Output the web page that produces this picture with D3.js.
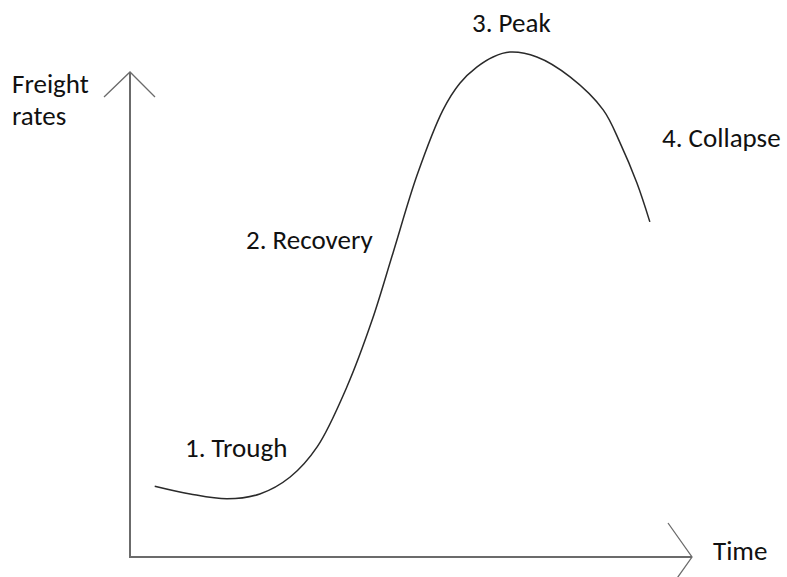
<!DOCTYPE html>
<html>
<head>
<meta charset="utf-8">
<script src="https://cdn.jsdelivr.net/npm/d3@7"></script>
<style>
  body { margin: 0; background: #fff; }
  svg text { font-family: Carlito, Lato, "Open Sans", sans-serif; font-size: 27px; fill: #111; }
</style>
</head>
<body>
<svg id="chart" width="787" height="577"></svg>
<script>
// freight cycle sketch, time vs rates (0-100 units each)
const time  = [4.4, 10.7, 17.3, 23.1, 28.5, 33.3, 38.6, 43.1, 46.8, 51.1, 55.7, 58.7, 61.7, 64.6, 67.6, 72.4, 78.3, 84.2, 87.2, 90.2, 92.5];
const rates = [14.6, 13, 12, 13, 16.5, 22.7, 35.1, 48.9, 62.7, 78.8, 92.2, 97.7, 101, 103.1, 104.1, 103.1, 99, 92.2, 85.4, 77.1, 69.1];

const phaseLabels = ['1. Trough', '2. Recovery', '3. Peak', '4. Collapse'];
const yTitle = ['Freight', 'rates'];
const xTitle = 'Time';

// layout
const ox = 130, oy = 557, yTop = 72, xEnd = 692;
const phasePos = [[185, 457], [246, 249], [472, 32], [662, 147]];

const svg = d3.select('#chart');

const x = d3.scaleLinear().domain([0, 100]).range([ox, xEnd]);
const y = d3.scaleLinear().domain([0, 100]).range([oy, yTop]);

// axes
svg.append('line')
  .attr('x1', ox).attr('y1', oy).attr('x2', ox).attr('y2', yTop)
  .attr('stroke', '#6b6b6b').attr('stroke-width', 2);
svg.append('line')
  .attr('x1', ox - 1).attr('y1', oy).attr('x2', xEnd).attr('y2', oy)
  .attr('stroke', '#6b6b6b').attr('stroke-width', 2);

// arrow heads (open chevrons)
svg.append('path')
  .attr('d', `M${ox - 26},${yTop + 25}L${ox},${yTop}L${ox + 25},${yTop + 25}`)
  .attr('fill', 'none').attr('stroke', '#6b6b6b').attr('stroke-width', 1.3);
svg.append('path')
  .attr('d', `M${xEnd - 24},${oy - 34}L${xEnd},${oy}L${xEnd - 24},${oy + 34}`)
  .attr('fill', 'none').attr('stroke', '#6b6b6b').attr('stroke-width', 1.3);

// cycle curve
const line = d3.line()
  .x((d, i) => x(time[i]))
  .y(d => y(d))
  .curve(d3.curveCatmullRom.alpha(0.5));

svg.append('path')
  .datum(rates)
  .attr('d', line)
  .attr('fill', 'none')
  .attr('stroke', '#2a2a2a')
  .attr('stroke-width', 1.5);

// labels
svg.selectAll('.phase')
  .data(phaseLabels)
  .enter().append('text')
  .attr('class', 'phase')
  .attr('x', (d, i) => phasePos[i][0])
  .attr('y', (d, i) => phasePos[i][1])
  .text(d => d);

svg.selectAll('.ytitle')
  .data(yTitle)
  .enter().append('text')
  .attr('class', 'ytitle')
  .attr('x', 12)
  .attr('y', (d, i) => 93 + i * 32)
  .text(d => d);

svg.append('text')
  .attr('x', 713).attr('y', 560)
  .text(xTitle);
</script>
</body>
</html>
